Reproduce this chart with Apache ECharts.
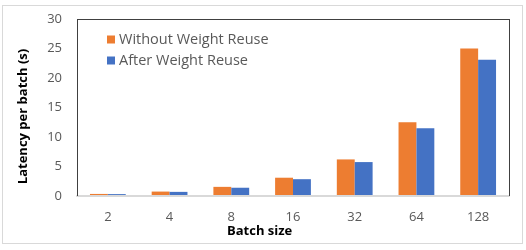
<!DOCTYPE html>
<html><head><meta charset="utf-8">
<script src="https://cdn.jsdelivr.net/npm/echarts@6/dist/echarts.min.js"></script>
<style>html,body{margin:0;padding:0;background:#fff}
#wrap{position:relative;width:526px;height:250px}
#c{width:526px;height:250px}
#border{position:absolute;left:2px;top:5px;width:519px;height:237px;border:1px solid #d9d9d9;pointer-events:none}
#frame{position:absolute;left:77px;top:19px;width:433px;height:177px;box-sizing:border-box;border-top:1px solid #404040;border-left:1px solid #404040;border-right:1px solid #404040;pointer-events:none}</style>
</head><body><div id="wrap"><div id="c"></div><div id="border"></div><div id="frame"></div></div>
<script>
const categories = ['2','4','8','16','32','64','128'];
const withoutReuse = [0.35, 0.75, 1.55, 3.1, 6.2, 12.5, 25.0];
const afterReuse = [0.32, 0.7, 1.4, 2.85, 5.75, 11.5, 23.1];
const seriesNames = ['Without Weight Reuse', 'After Weight Reuse'];
const yTicks = {min: 0, max: 30, interval: 5};
const FONT = '"Open Sans", "Noto Sans", sans-serif';
const chart = echarts.init(document.getElementById('c'), null, {renderer: 'canvas'});
chart.setOption({
  animation: false,
  textStyle: {fontFamily: FONT},
  graphic: {elements: [
    {type: 'text', id: 'xname', left: 227, top: 225, style: {text: 'Batch size', font: 'bold 13px ' + FONT, fill: '#000'}, z: 1}
  ]},
  grid: {left: 77, top: 19, right: 17, bottom: 54},
  legend: {
    left: 102, top: 27, orient: 'vertical', itemWidth: 8, itemHeight: 8, itemGap: 6,
    icon: 'rect',
    textStyle: {fontSize: 14.5, color: '#595959', fontFamily: FONT, padding: [0, 0, 0, -1]},
    data: seriesNames
  },
  xAxis: {
    type: 'category', data: categories, z: 5,
    axisLine: {show: true, lineStyle: {color: '#d9d9d9', width: 2}},
    axisTick: {show: false},
    axisLabel: {color: '#595959', fontSize: 13, margin: 15, fontFamily: FONT}
  },
  yAxis: {
    type: 'value', min: yTicks.min, max: yTicks.max, interval: yTicks.interval,
    name: 'Latency per batch (s)', nameLocation: 'middle', nameGap: 47,
    nameTextStyle: {fontWeight: 'bold', fontSize: 13, color: '#000', fontFamily: FONT, padding: [0, 0, 0, -18]},
    axisLine: {show: false}, axisTick: {show: false}, splitLine: {show: false},
    axisLabel: {color: '#595959', fontSize: 13, margin: 15, fontFamily: FONT}
  },
  series: [
    {name: seriesNames[0], type: 'bar', data: withoutReuse, barGap: '0%', barCategoryGap: '42%', itemStyle: {color: '#ED7D31'}},
    {name: seriesNames[1], type: 'bar', data: afterReuse, itemStyle: {color: '#4472C4'}}
  ]
});
</script></body></html>
